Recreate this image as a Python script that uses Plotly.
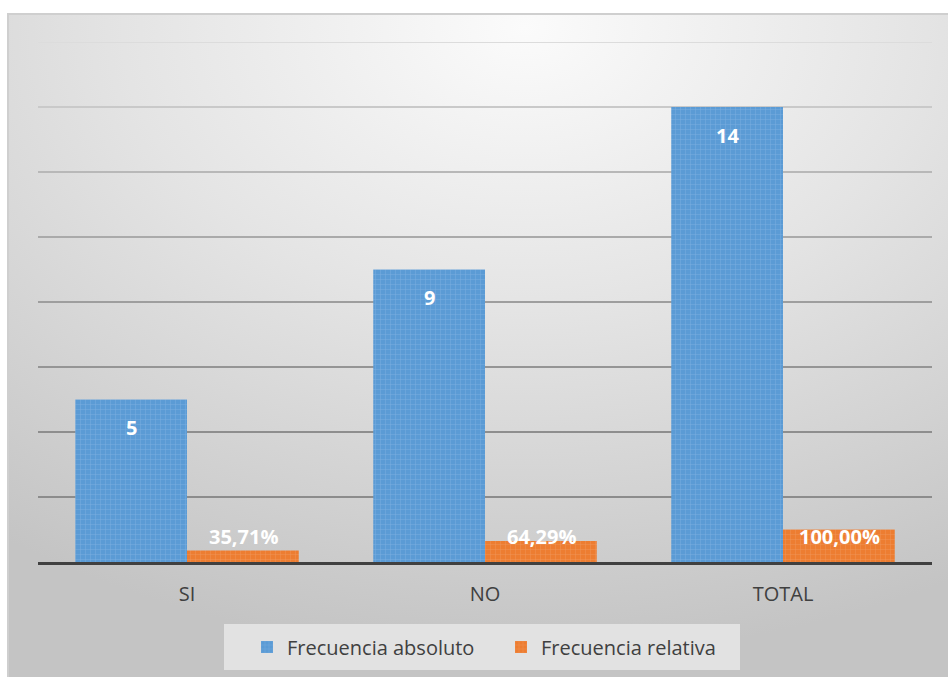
import base64
import plotly.graph_objects as go

# Survey answers: absolute counts and relative share (as a fraction of the total)
categories = ["SI", "NO", "TOTAL"]
abs_values = [5, 9, 14]
rel_values = [0.3571, 0.6429, 1.0]
rel_labels = ["35,71%", "64,29%", "100,00%"]

grid_levels = [2, 4, 6, 8, 10, 12, 14, 16]
grid_colors = ["#8c8c8c", "#8e8e8e", "#959595", "#9e9e9e", "#aaaaaa", "#b8b8b8", "#c9c9c9", "#dcdcdc"]

W, H = 948, 677
BLUE = "#5b9bd5"
ORANGE = "#ed7d31"
FONT = "Open Sans"

# soft radial backdrop for the chart area
svg = (
    '<svg xmlns="http://www.w3.org/2000/svg" width="940" height="663" preserveAspectRatio="none">'
    '<defs><radialGradient id="g" cx="0.55" cy="0.02" r="0.95" fx="0.55" fy="0.02">'
    '<stop offset="0" stop-color="#fbfbfb"/>'
    '<stop offset="0.45" stop-color="#e4e4e4"/>'
    '<stop offset="1" stop-color="#c4c4c4"/>'
    '</radialGradient></defs>'
    '<rect width="940" height="663" fill="url(#g)"/></svg>'
)
bg_src = "data:image/svg+xml;base64," + base64.b64encode(svg.encode()).decode()

fig = go.Figure()
fig.add_trace(go.Bar(
    x=categories, y=abs_values, name="Frecuencia absoluto",
    marker=dict(color=BLUE, line=dict(width=0),
                pattern=dict(shape="+", fgcolor="#9cc3ea", size=5, solidity=0.2, fgopacity=0.45)),
    hoverinfo="skip",
))
fig.add_trace(go.Bar(
    x=categories, y=rel_values, name="Frecuencia relativa",
    marker=dict(color=ORANGE, line=dict(width=0),
                pattern=dict(shape="+", fgcolor="#f5ad7e", size=5, solidity=0.2, fgopacity=0.45)),
    hoverinfo="skip",
))

shapes = []
for lvl, col in zip(grid_levels, grid_colors):
    shapes.append(dict(type="line", xref="paper", yref="y", x0=38 / W, x1=932 / W,
                       y0=lvl, y1=lvl, line=dict(color=col, width=2), layer="below"))
# legend panel
shapes.append(dict(type="rect", xref="paper", yref="paper",
                   x0=224 / W, x1=740 / W, y0=1 - 670 / H, y1=1 - 624 / H,
                   fillcolor="#e2e2e2", line=dict(width=0), layer="below"))
# chart frame
shapes.append(dict(type="rect", xref="paper", yref="paper",
                   x0=8 / W, x1=1.01, y0=-0.01, y1=1 - 14 / H,
                   fillcolor="rgba(0,0,0,0)", line=dict(color="#cfcfcf", width=2), layer="below"))

annotations = []
for c, v in zip(categories, abs_values):
    annotations.append(dict(x=c, y=v, xref="x", yref="y", text=f"<b>{v}</b>", showarrow=False,
                            xshift=-56, yshift=-28, font=dict(family=FONT, size=20, color="white")))
for c, lab in zip(categories, rel_labels):
    annotations.append(dict(x=c, y=0.77, xref="x", yref="y", text=f"<b>{lab}</b>", showarrow=False,
                            xshift=56, font=dict(family=FONT, size=20, color="white")))

fig.update_layout(
    width=W, height=H,
    margin=dict(l=0, r=0, t=0, b=0),
    paper_bgcolor="white",
    plot_bgcolor="rgba(0,0,0,0)",
    barmode="group", bargap=0.25, bargroupgap=0,
    font=dict(family=FONT, color="#404040"),
    images=[dict(source=bg_src, xref="paper", yref="paper", x=8 / W, y=1 - 14 / H,
                 sizex=940 / W, sizey=663 / H, sizing="stretch", layer="below",
                 xanchor="left", yanchor="top")],
    shapes=shapes,
    annotations=annotations,
    xaxis=dict(domain=[38 / W, 932 / W], showgrid=False, showline=True,
               linecolor="#404040", linewidth=3, ticks="", ticklabelstandoff=12,
               tickfont=dict(size=20, color="#404040", family=FONT)),
    yaxis=dict(domain=[1 - 562 / H, 1 - 42 / H], range=[0, 16], showgrid=False,
               zeroline=False, showticklabels=False, ticks=""),
    legend=dict(orientation="h", x=501 / W, xanchor="center", y=1 - 647 / H, yanchor="middle",
                bgcolor="rgba(0,0,0,0)", font=dict(size=20, color="#404040", family=FONT),
                itemwidth=30, entrywidth=209, traceorder="normal"),
    showlegend=True,
)

fig.write_html("out.html")
